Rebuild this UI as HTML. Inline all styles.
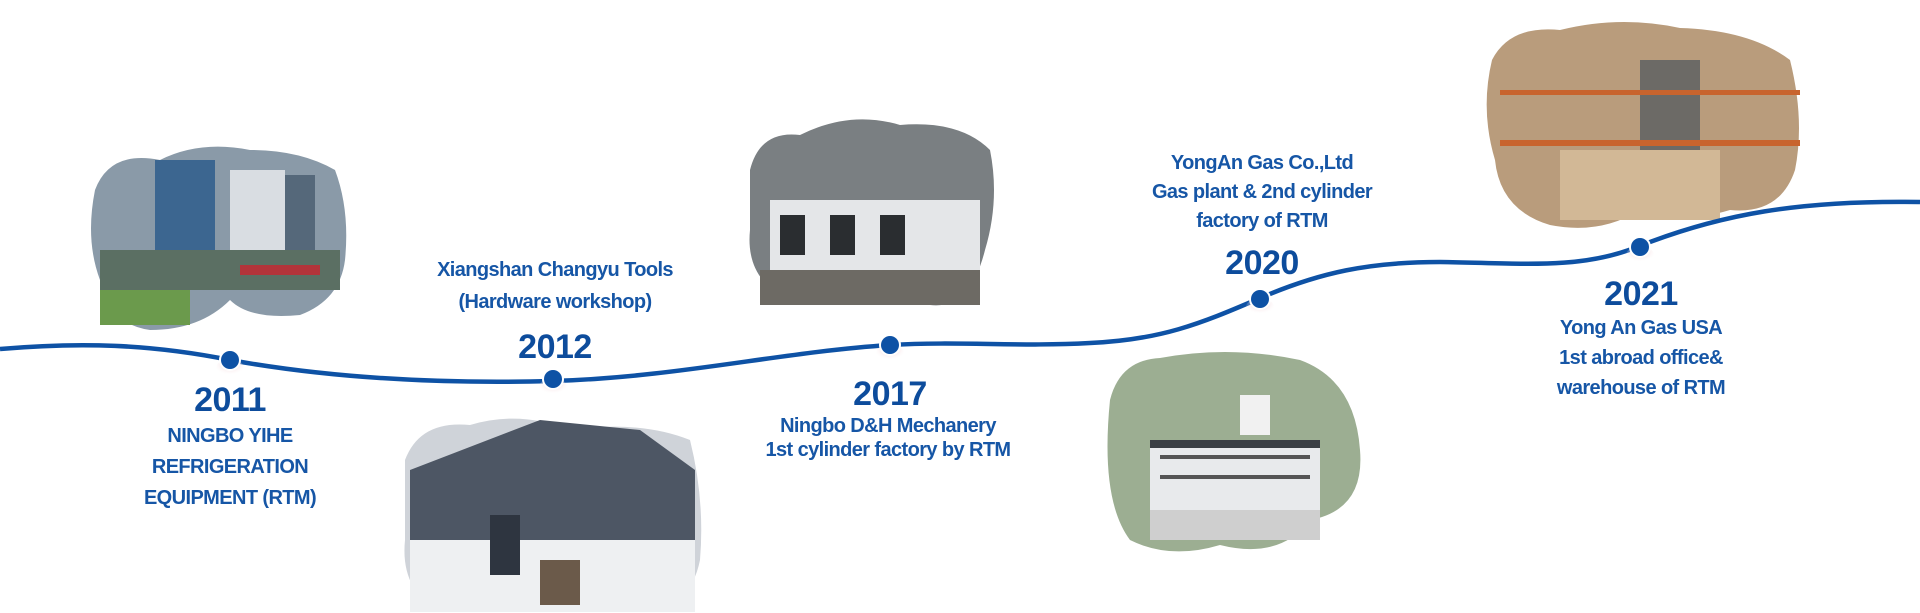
<!DOCTYPE html>
<html><head><meta charset="utf-8"><style>
html,body{margin:0;padding:0;background:#fff;}
body{width:1920px;height:613px;position:relative;overflow:hidden;font-family:"Liberation Sans",sans-serif;}
.t{position:absolute;transform:translateX(-50%);text-align:center;color:#1656a6;font-weight:bold;font-size:20px;letter-spacing:-0.6px;line-height:31px;white-space:nowrap;}
.y{position:absolute;transform:translateX(-50%);color:#0d4c9c;font-weight:bold;font-size:34px;letter-spacing:-0.5px;line-height:40px;}
</style></head><body>
<svg width="1920" height="613" style="position:absolute;left:0;top:0">
<defs>
<radialGradient id="sh" cx="50%" cy="30%" r="60%"><stop offset="0" stop-color="#e7a8b0" stop-opacity=".8"/><stop offset="1" stop-color="#fff" stop-opacity="0"/></radialGradient>
</defs>
<!-- images as blobs -->
<g>
<path d="M95 190 Q110 150 160 160 Q200 140 250 150 Q300 150 335 170 Q350 210 345 260 Q340 300 300 315 Q250 320 230 300 Q200 330 150 330 Q110 325 100 280 Q85 240 95 190Z" fill="#8a9aa8"/>
<rect x="155" y="160" width="60" height="120" fill="#3c6690"/>
<rect x="230" y="170" width="55" height="110" fill="#d9dde2"/>
<rect x="285" y="175" width="30" height="105" fill="#55687a"/>
<rect x="100" y="250" width="240" height="40" fill="#5b6f63"/>
<rect x="240" y="265" width="80" height="10" fill="#b3343a"/>
<rect x="100" y="290" width="90" height="35" fill="#6b9a4c"/>
</g>
<g>
<path d="M405 460 Q420 420 470 425 Q520 410 570 430 Q640 420 690 440 Q705 500 700 560 Q690 610 640 612 L440 612 Q400 590 405 540Z" fill="#cfd3d9"/>
<polygon points="410,470 540,420 640,430 695,470 695,540 410,540" fill="#4d5664"/>
<rect x="410" y="540" width="285" height="72" fill="#eef0f2"/>
<rect x="490" y="515" width="30" height="60" fill="#2e3540"/>
<rect x="540" y="560" width="40" height="45" fill="#6b5a4a"/>
</g>
<g>
<path d="M750 170 Q760 130 800 135 Q850 110 900 125 Q960 120 990 150 Q1000 200 985 250 Q970 310 930 305 Q880 300 860 270 Q830 310 790 300 Q745 280 750 230Z" fill="#7a7f82"/>
<rect x="770" y="200" width="210" height="70" fill="#e4e6e8"/>
<rect x="780" y="215" width="25" height="40" fill="#2a2d30"/>
<rect x="830" y="215" width="25" height="40" fill="#2a2d30"/>
<rect x="880" y="215" width="25" height="40" fill="#2a2d30"/>
<rect x="760" y="270" width="220" height="35" fill="#6d6a64"/>
</g>
<g>
<path d="M1110 400 Q1120 360 1160 358 Q1230 345 1300 360 Q1355 380 1360 450 Q1365 510 1310 520 Q1280 560 1220 545 Q1170 560 1130 540 Q1100 500 1110 400Z" fill="#9cae92"/>
<rect x="1150" y="440" width="170" height="70" fill="#e8eaec"/>
<rect x="1150" y="440" width="170" height="8" fill="#3b3f44"/>
<rect x="1160" y="455" width="150" height="4" fill="#555"/>
<rect x="1160" y="475" width="150" height="4" fill="#555"/>
<rect x="1240" y="395" width="30" height="40" fill="#f1f1f1"/>
<rect x="1150" y="510" width="170" height="30" fill="#cfcfcf"/>
</g>
<g>
<path d="M1492 60 Q1510 25 1560 30 Q1620 15 1680 28 Q1750 30 1790 60 Q1805 120 1795 170 Q1780 215 1730 210 Q1680 225 1640 210 Q1600 235 1550 225 Q1500 210 1495 160 Q1480 110 1492 60Z" fill="#b99c7c"/>
<rect x="1640" y="60" width="60" height="120" fill="#6c6a66"/>
<rect x="1500" y="140" width="300" height="6" fill="#c8642e"/>
<rect x="1500" y="90" width="300" height="5" fill="#c8642e"/>
<rect x="1560" y="150" width="160" height="70" fill="#d2b896"/>
</g>
<!-- line -->
<path d="M0 349 C80 342 150 344 230 360 C330 378 440 384 553 381 C680 377 780 352 890 345 C960 341 1020 347 1090 343 C1160 340 1200 324 1258 299 C1320 272 1370 262 1440 262 C1520 263 1580 270 1637 247 C1720 214 1800 200 1920 202" fill="none" stroke="#0e52a5" stroke-width="4.5"/>
<g>
<ellipse cx="230" cy="368" rx="14" ry="9" fill="url(#sh)"/>
<circle cx="230" cy="360" r="11" fill="#fff"/><circle cx="230" cy="360" r="9" fill="#0e52a5"/>
<ellipse cx="553" cy="387" rx="14" ry="9" fill="url(#sh)"/>
<circle cx="553" cy="379" r="11" fill="#fff"/><circle cx="553" cy="379" r="9" fill="#0e52a5"/>
<ellipse cx="890" cy="353" rx="14" ry="9" fill="url(#sh)"/>
<circle cx="890" cy="345" r="11" fill="#fff"/><circle cx="890" cy="345" r="9" fill="#0e52a5"/>
<ellipse cx="1260" cy="307" rx="14" ry="9" fill="url(#sh)"/>
<circle cx="1260" cy="299" r="11" fill="#fff"/><circle cx="1260" cy="299" r="9" fill="#0e52a5"/>
<ellipse cx="1640" cy="255" rx="14" ry="9" fill="url(#sh)"/>
<circle cx="1640" cy="247" r="11" fill="#fff"/><circle cx="1640" cy="247" r="9" fill="#0e52a5"/>
</g>
</svg>
<div class="y" style="left:230px;top:380px">2011</div>
<div class="t" style="left:230px;top:421px">NINGBO YIHE<br>REFRIGERATION<br>EQUIPMENT (RTM)</div>
<div class="t" style="left:555px;top:254px;line-height:32px">Xiangshan Changyu Tools<br>(Hardware workshop)</div>
<div class="y" style="left:555px;top:327px">2012</div>
<div class="y" style="left:890px;top:374px">2017</div>
<div class="t" style="left:888px;top:414px;line-height:24px">Ningbo D&amp;H Mechanery<br>1st cylinder factory by RTM</div>
<div class="t" style="left:1262px;top:149px;line-height:29px">YongAn Gas Co.,Ltd<br>Gas plant &amp; 2nd cylinder<br>factory of RTM</div>
<div class="y" style="left:1262px;top:243px">2020</div>
<div class="y" style="left:1641px;top:274px">2021</div>
<div class="t" style="left:1641px;top:313px;line-height:30px">Yong An Gas USA<br>1st abroad office&amp;<br>warehouse of RTM</div>
</body></html>
